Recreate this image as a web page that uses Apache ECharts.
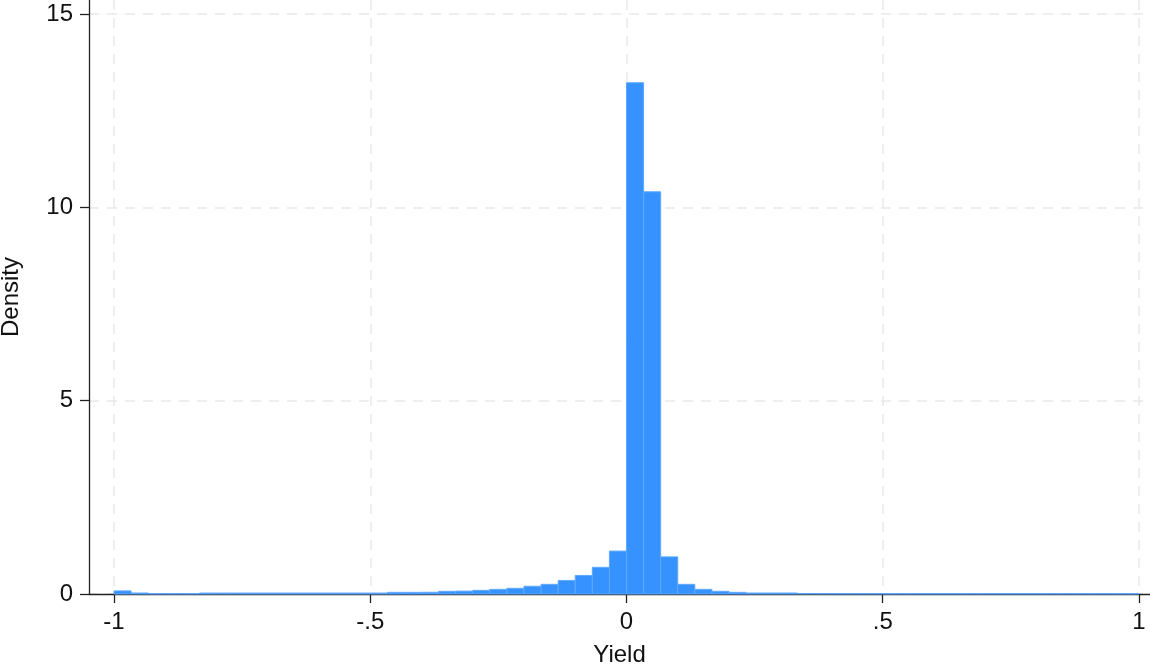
<!DOCTYPE html>
<html>
<head>
<meta charset="utf-8">
<script src="https://cdn.jsdelivr.net/npm/echarts@6/dist/echarts.min.js"></script>
<style>html,body{margin:0;padding:0;background:#fff}#c{width:1150px;height:668px}</style>
</head>
<body>
<div id="c"></div>
<script>
// Histogram: 60 bins of width 1/30 from -1 to 1
const binStart = -1;
const binWidth = 1 / 30;
const densities = [
  0.08, 0.026, 0.01, 0.01, 0.01, 0.025, 0.025, 0.025, 0.025, 0.025,
  0.025, 0.025, 0.025, 0.025, 0.025, 0.025, 0.043, 0.043, 0.045, 0.069,
  0.075, 0.095, 0.12, 0.147, 0.2, 0.25, 0.35, 0.48, 0.69, 1.11,
  13.22, 10.4, 0.96, 0.25, 0.12, 0.069, 0.043, 0.026, 0.026, 0.026,
  0.013, 0.013, 0.012, 0.012, 0.012, 0.01, 0.01, 0.01, 0.01, 0.01,
  0.01, 0.01, 0.01, 0.01, 0.01, 0.01, 0.01, 0.01, 0.01, 0.01
];
const xTicks = [-1, -0.5, 0, 0.5, 1];
const yTicks = [0, 5, 10, 15];

const data = densities.map((d, i) => [binStart + i * binWidth, binStart + (i + 1) * binWidth, d]);
const fmt = v => {
  let s = String(Math.round(v * 100) / 100);
  return s.replace(/^(-?)0\./, '$1.');
};
const font = 'Liberation Sans, Arial, Helvetica, sans-serif';

const chart = echarts.init(document.getElementById('c'), null, {renderer: 'canvas'});
chart.setOption({
  animation: false,
  backgroundColor: '#fff',
  grid: {left: 89, right: 0, top: 0, bottom: 74, containLabel: false, outerBoundsMode: 'none'},
  xAxis: {
    type: 'value', min: -1.0488, max: 1.0215,
    name: 'Yield', nameLocation: 'middle', nameGap: 49,
    nameTextStyle: {fontFamily: font, fontSize: 24, color: '#111'},
    axisLine: {show: true, onZero: false, lineStyle: {color: '#222', width: 1.3}},
    axisTick: {show: true, length: 9, customValues: xTicks, lineStyle: {color: '#222', width: 1.3}},
    axisLabel: {customValues: xTicks, formatter: fmt, margin: 16, fontFamily: font, fontSize: 24, color: '#111'},
    splitLine: {show: true, lineStyle: {color: '#e9e9e9', type: [10, 8], width: 1.5}}
  },
  yAxis: {
    type: 'value', min: 0, max: 15.36,
    name: 'Density', nameLocation: 'middle', nameGap: 66, nameRotate: 90,
    nameTextStyle: {fontFamily: font, fontSize: 24, color: '#111'},
    axisLine: {show: true, onZero: false, lineStyle: {color: '#222', width: 1.3}},
    axisTick: {show: true, length: 9, customValues: yTicks, lineStyle: {color: '#222', width: 1.3}},
    axisLabel: {customValues: yTicks, margin: 16, fontFamily: font, fontSize: 24, color: '#111'},
    splitLine: {show: true, lineStyle: {color: '#e9e9e9', type: [10, 8], width: 1.5}}
  },
  series: [{
    type: 'custom',
    data: data,
    encode: {x: [0, 1], y: 2},
    renderItem: function (params, api) {
      const p0 = api.coord([api.value(0), 0]);
      const p1 = api.coord([api.value(1), api.value(2)]);
      return {
        type: 'rect',
        shape: {x: p0[0], y: p1[1], width: p1[0] - p0[0], height: p0[1] - p1[1]},
        style: {fill: '#3592ff', stroke: '#5ea8ff', lineWidth: 1}
      };
    }
  }]
});
</script>
</body>
</html>
